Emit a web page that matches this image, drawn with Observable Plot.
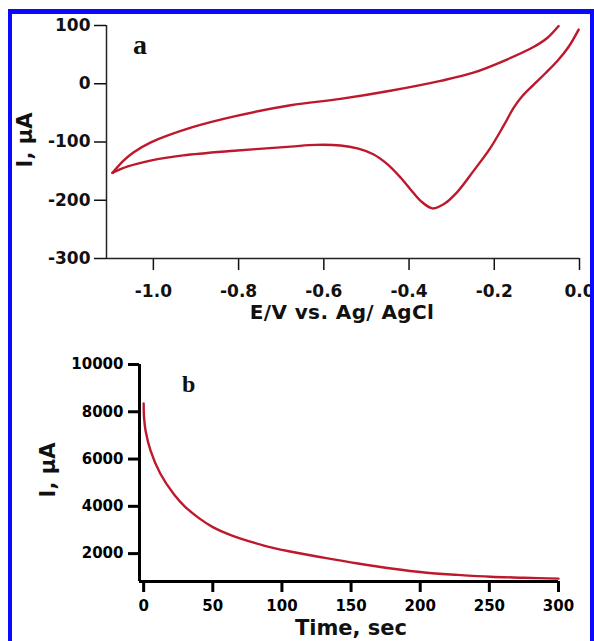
<!DOCTYPE html>
<html><head><meta charset="utf-8">
<script src="https://cdn.jsdelivr.net/npm/d3@7"></script>
<script src="https://cdn.jsdelivr.net/npm/@observablehq/plot@0.6"></script>
<style>
html,body{margin:0;padding:0;background:#fff;}
#wrap{position:relative;width:594px;height:641px;overflow:hidden;background:#fff;font-family:"DejaVu Sans",sans-serif;font-weight:bold;color:#111;}
.panel{position:absolute;left:0;}
.lbl{position:absolute;white-space:nowrap;line-height:1;}
.letter{position:absolute;white-space:nowrap;line-height:1;font-family:"Liberation Serif","Times New Roman",serif;font-weight:bold;}
#border{position:absolute;left:8px;top:9px;width:586px;height:700px;box-sizing:border-box;border:4px solid #0a0aff;border-top-width:5px;z-index:5;pointer-events:none;}
#pa [aria-label^="x-axis"] line, #pa [aria-label^="y-axis"] line, #pa [aria-label="x-axis tick"] path, #pa [aria-label="y-axis tick"] path {stroke-width:1.5px;}
#pb [aria-label^="x-axis"] line, #pb [aria-label^="y-axis"] line, #pb [aria-label="x-axis tick"] path, #pb [aria-label="y-axis tick"] path {stroke-width:3px;}
</style>
</head>
<body>
<div id="wrap">
  <div id="pa" class="panel" style="top:0px"></div>
  <div id="pb" class="panel" style="top:330px"></div>
  <div class="letter" style="left:133px;top:31px;font-size:28px">a</div>
  <div class="letter" style="left:182px;top:372px;font-size:24px">b</div>
  <div class="lbl" style="left:24.5px;top:140px;font-size:21px;transform:translate(-50%,-50%) rotate(-90deg)">I, µA</div>
  <div class="lbl" style="left:342px;top:302px;font-size:20px;letter-spacing:0.4px;transform:translate(-50%,0)">E/V vs. Ag/ AgCl</div>
  <div class="lbl" style="left:48px;top:470px;font-size:21px;transform:translate(-50%,-50%) rotate(-90deg)">I, µA</div>
  <div class="lbl" style="left:351px;top:618px;font-size:21px;transform:translate(-50%,0)">Time, sec</div>
  <div id="border"></div>
</div>
<script>
// Panel a: cyclic voltammogram (cathodic scan from 0.0 V, then anodic return)
const cathodicPotential = [-0.002, -0.025, -0.052, -0.08, -0.108, -0.135, -0.155, -0.178, -0.209, -0.249, -0.287, -0.319, -0.345, -0.373, -0.397, -0.42, -0.451, -0.484, -0.521, -0.561, -0.62, -0.678, -0.81, -0.93, -1.007, -1.06, -1.096];
const cathodicCurrent   = [93, 64, 39, 18, -2, -22, -42, -72, -110, -150, -186, -207, -214, -201, -181, -161, -138, -121, -111, -106, -105, -108, -115, -123, -132, -142, -153];
const anodicPotential = [-1.096, -1.07, -1.047, -1.007, -0.91, -0.81, -0.678, -0.561, -0.444, -0.326, -0.249, -0.169, -0.108, -0.075, -0.049];
const anodicCurrent   = [-153, -132, -118, -101, -75, -56, -37, -26, -12, 5, 19, 42, 63, 79, 99];
const cvPotentialTicks = [-1.0, -0.8, -0.6, -0.4, -0.2, 0.0];
const cvCurrentTicks = [100, 0, -100, -200, -300];
const cvPotentialDomain = [-1.11, 0];
const cvCurrentDomain = [-300, 100];

// Panel b: chronoamperometry
const caTime    = [0, 0.3, 1.4, 5, 12, 22, 30, 40, 50, 63, 87, 105, 130, 155, 179, 203, 227, 251, 275, 300];
const caCurrent = [8350, 7750, 7200, 6360, 5390, 4500, 3980, 3500, 3120, 2780, 2340, 2100, 1830, 1580, 1370, 1200, 1100, 1020, 980, 940];
const caTimeTicks = [0, 50, 100, 150, 200, 250, 300];
const caCurrentTicks = [2000, 4000, 6000, 8000, 10000];
const caTimeDomain = [-3, 300];
const caCurrentDomain = [820, 10000];

const red = "#be182d";

const cvData = [
  ...cathodicPotential.map((E, i) => ({E, I: cathodicCurrent[i], scan: "cathodic"})),
  ...anodicPotential.map((E, i) => ({E, I: anodicCurrent[i], scan: "anodic"}))
];
const caData = caTime.map((t, i) => ({t, I: caCurrent[i]}));

const pa = Plot.plot({
  width: 594, height: 330,
  marginLeft: 106, marginRight: 15, marginTop: 25, marginBottom: 72,
  style: {fontFamily: "DejaVu Sans", fontWeight: "bold", fontSize: "17px", color: "#111", background: "transparent", overflow: "visible"},
  x: {domain: cvPotentialDomain, ticks: cvPotentialTicks, tickSize: 12, tickPadding: 14, tickFormat: d => d.toFixed(1), label: null},
  y: {domain: cvCurrentDomain, ticks: cvCurrentTicks, tickSize: 12, tickPadding: 4, tickFormat: d => String(d), label: null},
  marks: [
    Plot.ruleX([cvPotentialDomain[0]], {stroke: "#222", strokeWidth: 1.5}),
    Plot.ruleY([cvCurrentDomain[0]], {stroke: "#222", strokeWidth: 1.5}),
    Plot.line(cvData, {x: "E", y: "I", z: "scan", stroke: red, strokeWidth: 2.4, curve: "catmull-rom"})
  ]
});
document.getElementById("pa").appendChild(pa);

const pb = Plot.plot({
  width: 594, height: 311,
  marginLeft: 139, marginRight: 36, marginTop: 34, marginBottom: 60,
  style: {fontFamily: "DejaVu Sans", fontWeight: "bold", fontSize: "15px", color: "#000", background: "transparent", overflow: "visible"},
  x: {domain: caTimeDomain, ticks: caTimeTicks, tickSize: 11, tickPadding: 8, tickFormat: d => String(d), label: null},
  y: {domain: caCurrentDomain, ticks: caCurrentTicks, tickSize: 11, tickPadding: 5, tickFormat: d => String(d), label: null},
  marks: [
    Plot.ruleX([caTimeDomain[0]], {stroke: "#000", strokeWidth: 3}),
    Plot.ruleY([caCurrentDomain[0]], {stroke: "#000", strokeWidth: 3}),
    Plot.line(caData, {x: "t", y: "I", stroke: red, strokeWidth: 2.4, curve: "catmull-rom"})
  ]
});
document.getElementById("pb").appendChild(pb);
</script>
</body></html>
